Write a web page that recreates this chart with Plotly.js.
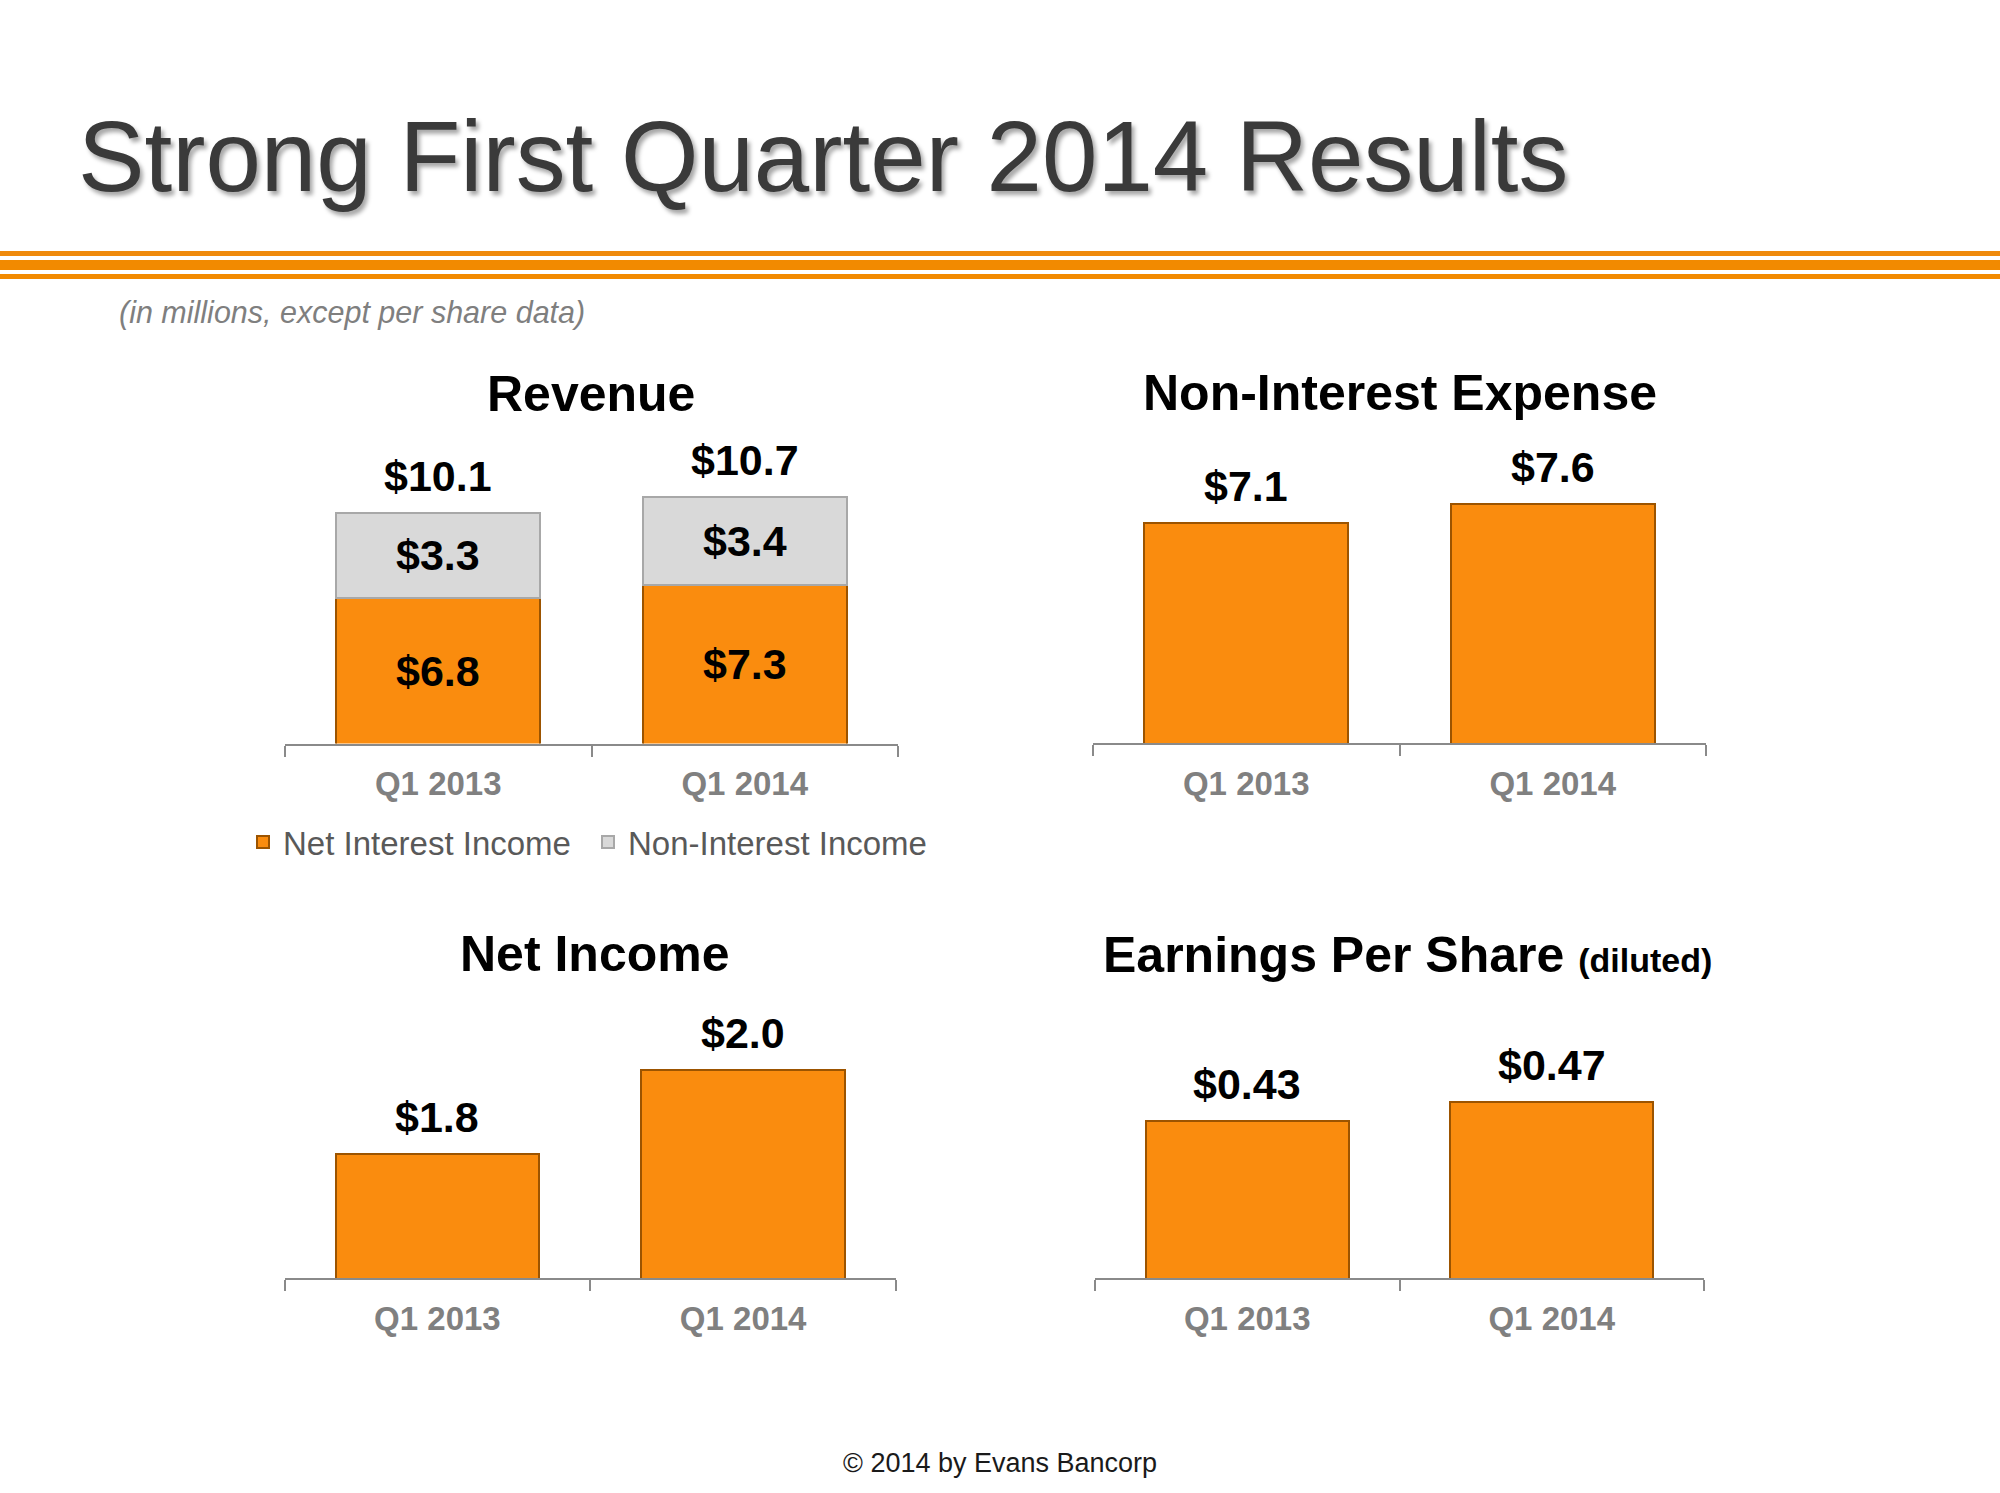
<!DOCTYPE html>
<html>
<head>
<meta charset="utf-8">
<script src="https://cdn.plot.ly/plotly-3.0.1.min.js"></script>
<style>
  html, body { margin: 0; padding: 0; background: #ffffff; }
  #chart { width: 2000px; height: 1493px; }
</style>
</head>
<body>
<div id="chart"></div>
<script>
// ---------- data ----------
const categories = ['Q1 2013', 'Q1 2014'];
const netInterestIncome = [6.8, 7.3];
const nonInterestIncome = [3.3, 3.4];
const nonInterestExpense = [7.1, 7.6];
const netIncome = [1.8, 2.0];
const earningsPerShare = [0.43, 0.47];

const pageTitle = 'Strong First Quarter 2014 Results';
const subTitle = '(in millions, except per share data)';
const footer = '\u00A9 2014 by Evans Bancorp';
const panelTitles = ['Revenue', 'Non-Interest Expense', 'Net Income',
  'Earnings Per Share <span style="font-size:34px">(diluted)</span>'];
const seriesNames = ['Net Interest Income', 'Non-Interest Income'];

// ---------- styling / layout constants ----------
const W = 2000, H = 1493;
const FONT = 'Arial, "Liberation Sans", Helvetica, sans-serif';
const ORANGE = '#FA8C0E', ORANGE_EDGE = '#9C5400';
const GRAY = '#D9D9D9', GRAY_EDGE = '#A8A8A8';
const AXIS_GRAY = '#8A8A8A';

const px = v => v / W;
const py = v => 1 - v / H;

// panel boxes in pixels: [left, right, top, bottom], y range
const panels = [
  { box: [285, 898, 450, 743.6], range: [1.18, 12.516] },
  { box: [1093, 1706, 450, 743.3], range: [1.3, 9.018] },
  { box: [284.5, 896, 1000, 1278], range: [1.505, 2.167] },
  { box: [1095, 1704, 1000, 1278.3], range: [0.098, 0.684] }
];

const labelFont = { family: FONT, size: 43, color: '#000000', weight: 'bold' };
const money1 = v => '$' + v.toFixed(1);
const money2 = v => '$' + v.toFixed(2);

const barCommon = { type: 'bar', hoverinfo: 'skip', cliponaxis: false };

const traces = [
  Object.assign({}, barCommon, {
    x: categories, y: netInterestIncome, xaxis: 'x', yaxis: 'y',
    name: seriesNames[0],
    marker: { color: ORANGE, line: { color: ORANGE_EDGE, width: 2 } }
  }),
  Object.assign({}, barCommon, {
    x: categories, y: nonInterestIncome, xaxis: 'x', yaxis: 'y',
    name: seriesNames[1],
    marker: { color: GRAY, line: { color: GRAY_EDGE, width: 2 } }
  }),
  Object.assign({}, barCommon, {
    x: categories, y: nonInterestExpense, xaxis: 'x2', yaxis: 'y2', showlegend: false,
    marker: { color: ORANGE, line: { color: ORANGE_EDGE, width: 2 } }
  }),
  Object.assign({}, barCommon, {
    x: categories, y: netIncome, xaxis: 'x3', yaxis: 'y3', showlegend: false,
    marker: { color: ORANGE, line: { color: ORANGE_EDGE, width: 2 } }
  }),
  Object.assign({}, barCommon, {
    x: categories, y: earningsPerShare, xaxis: 'x4', yaxis: 'y4', showlegend: false,
    marker: { color: ORANGE, line: { color: ORANGE_EDGE, width: 2 } }
  })
];

const layout = {
  width: W, height: H,
  margin: { l: 0, r: 0, t: 0, b: 0 },
  paper_bgcolor: '#ffffff', plot_bgcolor: 'rgba(0,0,0,0)',
  barmode: 'stack', bargap: 0.334,
  font: { family: FONT },
  showlegend: true,
  title: {
    text: pageTitle, x: px(78), xanchor: 'left', xref: 'paper',
    y: py(156), yanchor: 'middle', yref: 'paper',
    font: { family: FONT, size: 99.7, color: '#3A3A3A',
            shadow: '3px 4px 4px rgba(0,0,0,0.35)' }
  },
  legend: {
    orientation: 'h', x: px(243), xanchor: 'left', y: py(842), yanchor: 'middle',
    font: { family: FONT, size: 33, color: '#595959' },
    bgcolor: 'rgba(0,0,0,0)', traceorder: 'normal',
    entrywidth: 300, entrywidthmode: 'pixels'
  },
  shapes: [
    { type: 'rect', xref: 'paper', yref: 'paper', x0: 0, x1: 1, y0: py(251), y1: py(256),
      fillcolor: '#EF8A0C', line: { width: 0 } },
    { type: 'rect', xref: 'paper', yref: 'paper', x0: 0, x1: 1, y0: py(260), y1: py(270),
      fillcolor: '#F28A00', line: { width: 0 } },
    { type: 'rect', xref: 'paper', yref: 'paper', x0: 0, x1: 1, y0: py(274), y1: py(279),
      fillcolor: '#F28A00', line: { width: 0 } }
  ],
  annotations: []
};

const axisSuffix = ['', '2', '3', '4'];
panels.forEach((p, i) => {
  const s = axisSuffix[i];
  layout['xaxis' + s] = {
    domain: [px(p.box[0]), px(p.box[1])], anchor: 'y' + s,
    type: 'category', showline: true, linecolor: AXIS_GRAY, linewidth: 2,
    ticks: 'outside', tickson: 'boundaries', ticklen: 11, tickwidth: 2, tickcolor: AXIS_GRAY,
    tickfont: { family: FONT, size: 33, color: '#808080', weight: 'bold' },
    ticklabelstandoff: 10,
    showgrid: false, zeroline: false, fixedrange: true
  };
  layout['yaxis' + s] = {
    domain: [py(p.box[3]), py(p.box[2])], anchor: 'x' + s,
    range: p.range, visible: false, showgrid: false, zeroline: false, fixedrange: true
  };
});

// panel titles
const titlePos = [[591, 394], [1400, 393], [595, 954], [1407, 955]];
panelTitles.forEach((t, i) => {
  layout.annotations.push({
    text: t, xref: 'paper', yref: 'paper', x: px(titlePos[i][0]), y: py(titlePos[i][1]),
    xanchor: 'center', yanchor: 'middle', showarrow: false,
    font: { family: FONT, size: 50, color: '#000000', weight: 'bold' }
  });
});

// value labels
const LABEL_SHIFT = 37;
const revBase = panels[0].range[0];
categories.forEach((c, i) => {
  const total = netInterestIncome[i] + nonInterestIncome[i];
  // inside segment labels (centred on the visible part of each segment)
  layout.annotations.push({
    xref: 'x', yref: 'y', x: c, y: (revBase + netInterestIncome[i]) / 2,
    text: money1(netInterestIncome[i]), showarrow: false, yanchor: 'middle', font: labelFont
  });
  layout.annotations.push({
    xref: 'x', yref: 'y', x: c, y: netInterestIncome[i] + nonInterestIncome[i] / 2,
    text: money1(nonInterestIncome[i]), showarrow: false, yanchor: 'middle', font: labelFont
  });
  // totals / values above bars
  layout.annotations.push({
    xref: 'x', yref: 'y', x: c, y: total, text: money1(total),
    showarrow: false, yanchor: 'middle', yshift: LABEL_SHIFT, font: labelFont
  });
  layout.annotations.push({
    xref: 'x2', yref: 'y2', x: c, y: nonInterestExpense[i], text: money1(nonInterestExpense[i]),
    showarrow: false, yanchor: 'middle', yshift: LABEL_SHIFT, font: labelFont
  });
  layout.annotations.push({
    xref: 'x3', yref: 'y3', x: c, y: netIncome[i], text: money1(netIncome[i]),
    showarrow: false, yanchor: 'middle', yshift: LABEL_SHIFT, font: labelFont
  });
  layout.annotations.push({
    xref: 'x4', yref: 'y4', x: c, y: earningsPerShare[i], text: money2(earningsPerShare[i]),
    showarrow: false, yanchor: 'middle', yshift: LABEL_SHIFT, font: labelFont
  });
});

// subtitle and footer
layout.annotations.push({
  text: subTitle, xref: 'paper', yref: 'paper', x: px(117), y: py(313),
  xanchor: 'left', yanchor: 'middle', showarrow: false,
  font: { family: FONT, size: 30.5, color: '#7F7F7F', style: 'italic' }
});
layout.annotations.push({
  text: footer, xref: 'paper', yref: 'paper', x: px(1000), y: py(1463),
  xanchor: 'center', yanchor: 'middle', showarrow: false,
  font: { family: FONT, size: 27, color: '#1A1A1A' }
});

Plotly.newPlot('chart', traces, layout, { staticPlot: true, displayModeBar: false });
</script>
</body>
</html>
